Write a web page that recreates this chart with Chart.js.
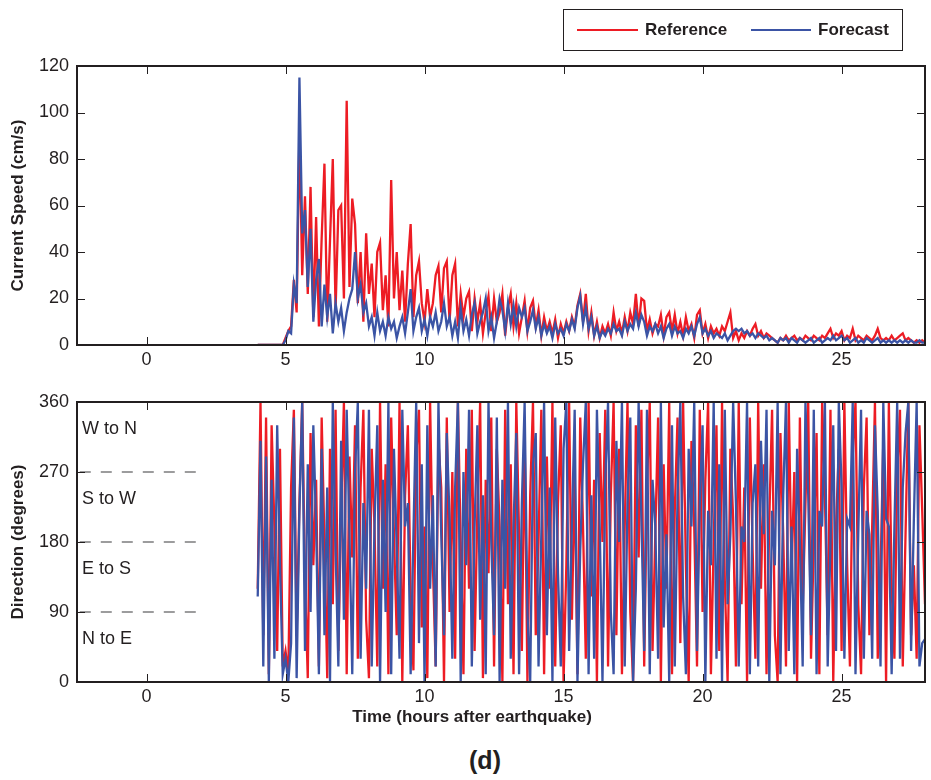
<!DOCTYPE html>
<html lang="en">
  <head>
    <meta charset="UTF-8" />
    <title>Current speed and direction (d)</title>
    <script src="https://cdn.jsdelivr.net/npm/chart.js@4.4.1/dist/chart.umd.min.js"></script>
    <style>
      body {
        margin: 0;
        background: #fff;
        font-family: "Liberation Sans", Arial, sans-serif;
        color: #231f20;
      }
      #page {
        position: relative;
        width: 931px;
        height: 780px;
      }
      canvas {
        position: absolute;
        left: 0;
      }
      #speedChart { top: 0; }
      #dirChart { top: 380px; }
      .legend {
        position: absolute;
        left: 563px;
        top: 9px;
        width: 338px;
        height: 40px;
        border: 1px solid #231f20;
      }
      .legend span {
        position: absolute;
        top: 0;
        line-height: 40px;
        font-weight: bold;
        font-size: 17px;
      }
      .legend i {
        position: absolute;
        top: 19px;
        height: 2px;
      }
      .quad {
        position: absolute;
        left: 82px;
        font-size: 18px;
        line-height: 20px;
      }
      #xTitle {
        position: absolute;
        left: 272px;
        width: 400px;
        top: 706px;
        text-align: center;
        font-weight: bold;
        font-size: 17px;
        line-height: 22px;
      }
      #panel {
        position: absolute;
        left: 435px;
        width: 100px;
        top: 745px;
        text-align: center;
        font-weight: bold;
        font-size: 25px;
        line-height: 30px;
      }
    </style>
  </head>
  <body>
    <div id="page">
      <canvas id="speedChart" width="931" height="375"></canvas>
      <canvas id="dirChart" width="931" height="330"></canvas>
      <div class="legend">
        <i style="left:13px;width:61px;background:rgb(237,28,36)"></i>
        <span style="left:81px">Reference</span>
        <i style="left:187px;width:60px;background:rgb(59,84,165)"></i>
        <span style="left:254px">Forecast</span>
      </div>
      <div id="xTitle">Time (hours after earthquake)</div>
      <div id="panel">(d)</div>
    </div>

    <script>
      // samples every 0.1 h starting 4.0 h after the earthquake
      const tStart = 4.0;
      const tStep = 0.1;

      const timeTicks = [0, 5, 10, 15, 20, 25];
      const speedTicks = [0, 20, 40, 60, 80, 100, 120];
      const dirTicks = [0, 90, 180, 270, 360];
      const quadrantBounds = [90, 180, 270];
      const quadrantLabels = ["N to E", "E to S", "S to W", "W to N"];
      const quadrantMids = [45, 135, 225, 315];

      // current speed (cm/s)
      const refSpeed = [
        0, 0, 0, 0, 0, 0, 0, 0, 0, 0,
        3, 6, 8, 28, 14, 92, 30, 64, 22, 68,
        12, 55, 8, 46, 78, 10, 45, 80, 15, 58,
        60, 20, 105, 25, 63, 52, 18, 40, 10, 48,
        22, 35, 12, 40, 44, 15, 30, 8, 71, 20,
        40, 15, 32, 10, 35, 52, 12, 30, 36, 18,
        10, 24, 12, 18, 30, 34, 14, 33, 36, 10,
        30, 35, 8, 22, 12, 20, 23, 6, 20, 10,
        18, 5, 14, 21, 6, 20, 10, 14, 22, 4,
        16, 22, 8, 18, 5, 12, 19, 6, 16, 19,
        8, 15, 4, 12, 6, 10, 5, 11, 3, 9,
        5, 10, 6, 12, 8, 17, 22, 10, 22, 6,
        14, 4, 10, 3, 8, 5, 9, 4, 14, 6,
        10, 5, 12, 6, 14, 9, 22, 8, 20, 19,
        6, 11, 5, 9, 8, 13, 4, 12, 14, 6,
        13, 5, 10, 4, 12, 6, 9, 3, 13, 15,
        5, 9, 3, 8, 5, 7, 4, 8, 6, 10,
        14, 3, 6, 2, 5, 3, 6, 4, 7, 9,
        4, 6, 3, 5, 4, 3, 2, 1, 3, 2,
        4, 2, 3, 4, 2, 3, 2, 4, 3, 2,
        4, 3, 2, 4, 3, 5, 7, 3, 5, 4,
        6, 2, 4, 3, 7, 2, 4, 3, 2, 4,
        3, 2, 4, 7, 3, 2, 3, 2, 4, 2,
        3, 4, 5, 2, 3, 2, 1, 2, 1, 2,
        1
      ];
      const fcSpeed = [
        0, 0, 0, 0, 0, 0, 0, 0, 0, 0,
        2, 6, 5, 26, 18, 115, 48, 58, 25, 50,
        10, 28, 37, 8, 26, 12, 22, 5, 18, 10,
        16, 6, 14, 20, 24, 40, 20, 26, 14, 18,
        8, 12, 4, 14, 6, 10, 4, 12, 7, 10,
        3, 8, 12, 5, 14, 24, 6, 12, 16, 6,
        11, 4, 12, 8, 14, 6, 10, 18, 8, 12,
        4, 10, 3, 16, 6, 11, 4, 13, 18, 5,
        10, 14, 20, 6, 12, 3, 10, 20, 15, 6,
        18, 9, 17, 8, 16, 12, 16, 6, 10, 15,
        7, 12, 4, 9, 5, 8, 3, 9, 5, 7,
        4, 9, 6, 11, 7, 16, 21, 9, 16, 7,
        12, 4, 8, 3, 6, 4, 7, 5, 9, 6,
        7, 4, 10, 6, 9, 7, 14, 8, 13, 10,
        4, 8, 6, 9, 5, 8, 3, 7, 9, 4,
        8, 5, 6, 3, 7, 5, 8, 4, 9, 12,
        5, 7, 4, 6, 3, 5, 4, 3, 5, 2,
        4, 6, 7, 6, 7, 5, 6, 4, 5, 3,
        5, 4, 3, 4, 2, 3, 2, 1, 3, 2,
        3, 1, 3, 2, 1, 3, 2, 1, 2, 3,
        1, 2, 3, 1, 2, 3, 2, 4, 2, 3,
        4, 2, 3, 1, 2, 3, 1, 2, 1, 3,
        2, 1, 2, 3, 1, 2, 1, 2, 1, 2,
        1, 2, 1, 2, 1, 2, 1, 1, 2, 1,
        1
      ];

      // current direction (degrees)
      const refDir = [
        120, 360, 60, 340, 10, 330, 200, 40, 300, 20,
        40, 10, 250, 350, 60, 230, 360, 130, 5, 320,
        150, 260, 20, 340, 180, 5, 300, 100, 350, 40,
        220, 360, 10, 290, 160, 330, 30, 250, 350, 80,
        5, 300, 200, 20, 360, 120, 280, 10, 340, 190,
        60, 360, 0, 240, 330, 110, 15, 290, 350, 70,
        200, 5, 360, 150, 20, 310, 250, 0, 340, 90,
        270, 30, 360, 180, 10, 300, 120, 350, 40, 220,
        360, 5, 260, 140, 340, 20, 300, 200, 0, 350,
        100, 280, 10, 360, 190, 40, 320, 0, 240, 360,
        60, 180, 350, 10, 290, 120, 360, 20, 230, 330,
        0, 150, 360, 80, 270, 10, 340, 200, 30, 360,
        110, 260, 0, 320, 180, 350, 20, 240, 360, 60,
        300, 10, 200, 360, 90, 0, 330, 160, 350, 20,
        250, 360, 40, 190, 340, 0, 280, 120, 360, 10,
        220, 340, 50, 360, 150, 0, 310, 200, 20, 350,
        90, 260, 360, 10, 180, 330, 40, 360, 130, 0,
        300, 210, 20, 360, 100, 250, 0, 340, 170, 30,
        360, 120, 280, 10, 210, 350, 60, 0, 320, 190,
        20, 360, 140, 270, 0, 340, 90, 230, 360, 30,
        180, 320, 10, 360, 240, 60, 350, 0, 200, 300,
        40, 360, 150, 20, 290, 360, 100, 10, 250, 340,
        60, 200, 360, 30, 140, 310, 0, 360, 120, 30,
        270, 350, 20, 190, 360, 60, 150, 30, 330, 220,
        100
      ];
      const fcDir = [
        110, 310, 20, 290, 0, 260, 30, 330, 150, 10,
        30, 0, 50, 340, 5, 220, 360, 40, 280, 90,
        330, 200, 10, 300, 60, 250, 0, 360, 170, 20,
        310, 80, 350, 190, 10, 270, 360, 30, 230, 120,
        350, 20, 200, 330, 0, 260, 90, 360, 10, 300,
        170, 30, 350, 200, 230, 10, 190, 360, 50, 280,
        0, 330, 120, 240, 20, 360, 190, 60, 320, 210,
        30, 250, 360, 0, 270, 150, 350, 20, 200, 330,
        80, 240, 10, 360, 180, 60, 340, 0, 260, 120,
        360, 30, 200, 320, 10, 230, 360, 90, 0, 280,
        320, 20, 190, 360, 60, 250, 0, 340, 140, 20,
        300, 360, 40, 200, 350, 0, 170, 280, 360, 10,
        240, 30, 350, 200, 0, 260, 360, 90, 10, 310,
        180, 360, 20, 230, 340, 0, 120, 360, 210, 40,
        350, 10, 260, 200, 30, 360, 70, 190, 0, 330,
        20, 240, 360, 110, 10, 300, 200, 360, 40, 230,
        330, 0, 220, 150, 360, 30, 280, 0, 350, 100,
        190, 360, 230, 20, 200, 180, 360, 10, 230, 280,
        20, 310, 190, 350, 0, 220, 150, 360, 10, 240,
        360, 40, 200, 10, 300, 180, 20, 360, 240, 60,
        350, 10, 220, 200, 360, 20, 180, 330, 40, 360,
        250, 30, 210, 200, 360, 10, 190, 350, 30, 220,
        190, 30, 330, 220, 20, 360, 210, 200, 10, 200,
        360, 30, 250, 320, 360, 40, 210, 360, 20, 50,
        55
      ];

      const RED = "rgb(237, 28, 36)";
      const BLUE = "rgb(59, 84, 165)";
      const INK = "#231f20";
      const FONT = "'Liberation Sans', Arial, sans-serif";

      const timeHours = refSpeed.map((_, i) => +(tStart + i * tStep).toFixed(1));
      const toPoints = (vals) => vals.map((v, i) => ({ x: timeHours[i], y: v }));

      // box around the axes with MATLAB style inward ticks
      const frameTicks = {
        id: "frameTicks",
        afterDraw(chart) {
          const { ctx, chartArea: a, scales } = chart;
          const x = scales.x, y = scales.y;
          ctx.save();
          ctx.strokeStyle = INK;
          ctx.lineWidth = 1;
          ctx.beginPath();
          x.ticks.forEach((t) => {
            const px = Math.round(x.getPixelForValue(t.value)) + 0.5;
            ctx.moveTo(px, a.bottom);
            ctx.lineTo(px, a.bottom - 8);
            ctx.moveTo(px, a.top);
            ctx.lineTo(px, a.top + 8);
          });
          y.ticks.forEach((t) => {
            const py = Math.round(y.getPixelForValue(t.value)) + 0.5;
            ctx.moveTo(a.left, py);
            ctx.lineTo(a.left + 8, py);
            ctx.moveTo(a.right, py);
            ctx.lineTo(a.right - 8, py);
          });
          ctx.stroke();
          ctx.lineWidth = 2;
          ctx.strokeRect(a.left, a.top, a.right - a.left, a.bottom - a.top);
          ctx.restore();
        },
      };

      function timeAxis(height) {
        return {
          type: "linear",
          min: -2.5,
          max: 28,
          afterBuildTicks: (s) => { s.ticks = timeTicks.map((v) => ({ value: v })); },
          afterFit: (s) => { s.height = height; },
          grid: { display: false, drawTicks: false },
          border: { display: false },
          ticks: { color: INK, padding: 4, maxRotation: 0, font: { size: 18, family: FONT } },
        };
      }

      function valueAxis(min, max, ticks, title) {
        return {
          min: min,
          max: max,
          afterBuildTicks: (s) => { s.ticks = ticks.map((v) => ({ value: v })); },
          afterFit: (s) => { s.width = 77; },
          grid: { display: false, drawTicks: false },
          border: { display: false },
          ticks: { color: INK, padding: 8, font: { size: 18, family: FONT } },
          title: {
            display: true,
            text: title,
            color: INK,
            padding: { top: 8, bottom: 0 },
            font: { size: 17, weight: "bold", family: FONT },
          },
        };
      }

      function seriesLine(label, vals, color, order) {
        return {
          label: label,
          data: toPoints(vals),
          borderColor: color,
          borderWidth: 2.3,
          pointRadius: 0,
          tension: 0,
          order: order,
        };
      }

      const common = {
        responsive: false,
        animation: false,
        devicePixelRatio: 1,
        plugins: { legend: { display: false }, tooltip: { enabled: false } },
      };

      new Chart(document.getElementById("speedChart"), {
        type: "line",
        data: {
          datasets: [
            seriesLine("Reference", refSpeed, RED, 2),
            seriesLine("Forecast", fcSpeed, BLUE, 1),
          ],
        },
        options: Object.assign({}, common, {
          layout: { padding: { top: 66, right: 6, left: 0, bottom: 0 } },
          scales: {
            x: timeAxis(30),
            y: valueAxis(0, 120, speedTicks, "Current Speed (cm/s)"),
          },
        }),
        plugins: [frameTicks],
      });

      const guideLines = quadrantBounds.map((b) => ({
        label: "guide " + b,
        data: [{ x: -2.4, y: b }, { x: 2.0, y: b }],
        borderColor: "#3a3a3c",
        borderWidth: 1.2,
        borderDash: [11, 10],
        pointRadius: 0,
        order: 3,
      }));

      const dirChart = new Chart(document.getElementById("dirChart"), {
        type: "line",
        data: {
          datasets: [
            seriesLine("Reference", refDir, RED, 2),
            seriesLine("Forecast", fcDir, BLUE, 1),
          ].concat(guideLines),
        },
        options: Object.assign({}, common, {
          layout: { padding: { top: 22, right: 6, left: 0, bottom: 0 } },
          scales: {
            x: timeAxis(28),
            y: valueAxis(0, 360, dirTicks, "Direction (degrees)"),
          },
        }),
        plugins: [frameTicks],
      });

      // quadrant names, placed with the direction scale
      const page = document.getElementById("page");
      quadrantLabels.forEach((name, i) => {
        const div = document.createElement("div");
        div.className = "quad";
        div.textContent = name;
        const py = 380 + dirChart.scales.y.getPixelForValue(quadrantMids[i]);
        div.style.top = Math.round(py - 9 - 10) + "px";
        page.appendChild(div);
      });
    </script>
  </body>
</html>
